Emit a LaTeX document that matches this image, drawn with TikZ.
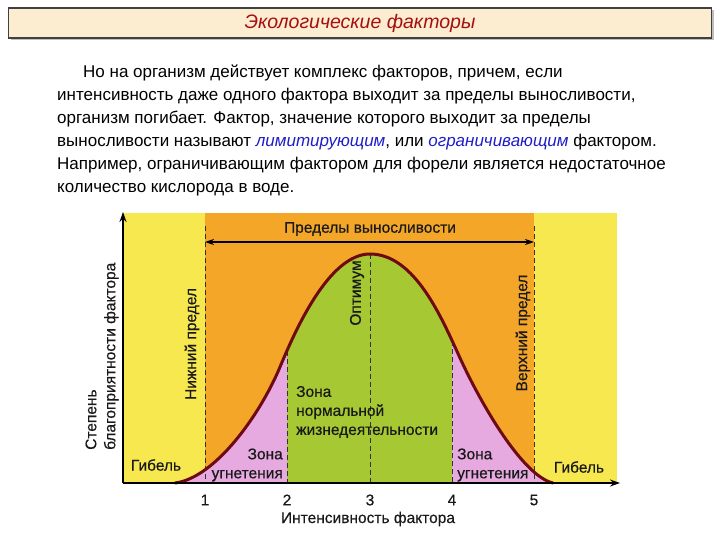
\documentclass[tikz,border=0pt]{standalone}
\usepackage{fontspec}
\setmainfont{Liberation Sans}
\newfontfamily\chfont{Liberation Sans}[FakeBold=0.5]
\usetikzlibrary{arrows.meta,shadows}
\definecolor{bgyellow}{RGB}{246,232,78}
\definecolor{bgorange}{RGB}{243,166,40}
\definecolor{zgreen}{RGB}{166,200,50}
\definecolor{zpink}{RGB}{230,170,225}
\definecolor{curvered}{RGB}{110,10,20}
\definecolor{titlered}{RGB}{165,15,15}
\definecolor{titlefill}{RGB}{252,236,208}
\definecolor{linkblue}{RGB}{30,30,200}
\definecolor{chtext}{RGB}{25,25,25}
\tikzset{
  paraline/.style={anchor=base west,inner sep=0pt,font=\fontsize{17}{20}\selectfont},
  chlabel/.style={inner sep=0pt,text=chtext,font=\chfont\fontsize{15.5}{19}\selectfont},
  limline/.style={line width=0.9pt,dash pattern=on 5pt off 3pt,draw=black!80},
  axisline/.style={line width=1.6pt,-{Stealth[length=10pt,width=7pt]}},
}
\newcommand{\curvepath}{(175,483) .. controls (215,478) and (260,415) .. (280,367)
  .. controls (297,326) and (330,254) .. (370,254)
  .. controls (415,254) and (442,318.6) .. (460,358)
  .. controls (482,406) and (523,476) .. (553,483)}
\begin{document}
\begin{tikzpicture}[x=1pt,y=-1pt]
\useasboundingbox (0,0) rectangle (720,540);
% title
\node[draw=black!75,line width=1.2pt,fill=titlefill,minimum width=703pt,minimum height=30pt,
  drop shadow={shadow xshift=2pt,shadow yshift=-2pt,opacity=0.5},
  text=titlered,font=\fontsize{19.5}{23}\selectfont\itshape] (title) at (360,23) {Экологические факторы};
% paragraph
\node[paraline] (p1) at (83,78) {Но на организм действует комплекс факторов, причем, если};
\node[paraline] (p2) at (57,101) {интенсивность даже одного фактора выходит за пределы выносливости,};
\node[paraline] (p3) at (57,124) {организм погибает. Фактор, значение которого выходит за пределы};
\node[paraline] (p4) at (57,147) {выносливости называют \textcolor{linkblue}{\itshape лимитирующим}, или \textcolor{linkblue}{\itshape ограничивающим} фактором.};
\node[paraline] (p5) at (57,170) {Например, ограничивающим фактором для форели является недостаточное};
\node[paraline] (p6) at (57,193) {количество кислорода в воде.};
% backgrounds
\fill[bgyellow] (123,213) rectangle (617,483);
\fill[bgorange] (205,213) rectangle (534,483);
\begin{scope}
  \clip \curvepath -- cycle;
  \fill[zpink] (123,213) rectangle (287,483);
  \fill[zgreen] (287,213) rectangle (452,483);
  \fill[zpink] (452,213) rectangle (617,483);
\end{scope}
% dashed limits
\coordinate (t1) at (205,226); \coordinate (b1) at (205,483);
\coordinate (t2) at (287,351); \coordinate (b2) at (287,483);
\coordinate (t3) at (370,254); \coordinate (b3) at (370,483);
\coordinate (t4) at (452,341); \coordinate (b4) at (452,483);
\coordinate (t5) at (534,226); \coordinate (b5) at (534,483);
\draw[limline] (t1) -- (b1);
\draw[limline] (t2) -- (b2);
\draw[limline] (t3) -- (b3);
\draw[limline] (t4) -- (b4);
\draw[limline] (t5) -- (b5);
% curve
\draw[curvered,line width=3pt,line cap=round] \curvepath;
% axes
\coordinate (o) at (123,483);
\coordinate (ytop) at (123,212);
\coordinate (xend) at (620,483);
\draw[axisline] (o) -- (ytop);
\draw[axisline] (o) -- (xend);
% tolerance arrow
\coordinate (pl) at (205,242); \coordinate (pr) at (534,242);
\draw[line width=1.1pt,{Stealth[length=9pt,width=6pt]}-{Stealth[length=9pt,width=6pt]}] (pl) -- (pr);
\node[chlabel] (lim) at (370,229) {Пределы выносливости};
% tick labels
\node[chlabel] (n1) at (205,500) {1};
\node[chlabel] (n2) at (287,500) {2};
\node[chlabel] (n3) at (370,500) {3};
\node[chlabel] (n4) at (452,500) {4};
\node[chlabel] (n5) at (534,500) {5};
\node[chlabel] (xlab) at (368,519) {Интенсивность фактора};
\node[chlabel,rotate=90,anchor=west,align=left] (ylab) at (102,450) {Степень\\благоприятности фактора};
% rotated labels
\node[chlabel,rotate=90] (low) at (192,344) {Нижний предел};
\node[chlabel,rotate=90] (opt) at (357,293) {Оптимум};
\node[chlabel,rotate=90] (up) at (523,333) {Верхний предел};
% zone labels
\node[chlabel] (g1) at (156,465) {Гибель};
\node[chlabel] (g2) at (579,467) {Гибель};
\node[chlabel,align=right,anchor=east] (zu1) at (283,465) {Зона\\угнетения};
\node[chlabel,align=left,anchor=west] (zu2) at (457,465) {Зона\\угнетения};
\node[chlabel,align=left,anchor=west] (zn) at (296,412) {Зона\\нормальной\\жизнедеятельности};
\end{tikzpicture}
\end{document}
